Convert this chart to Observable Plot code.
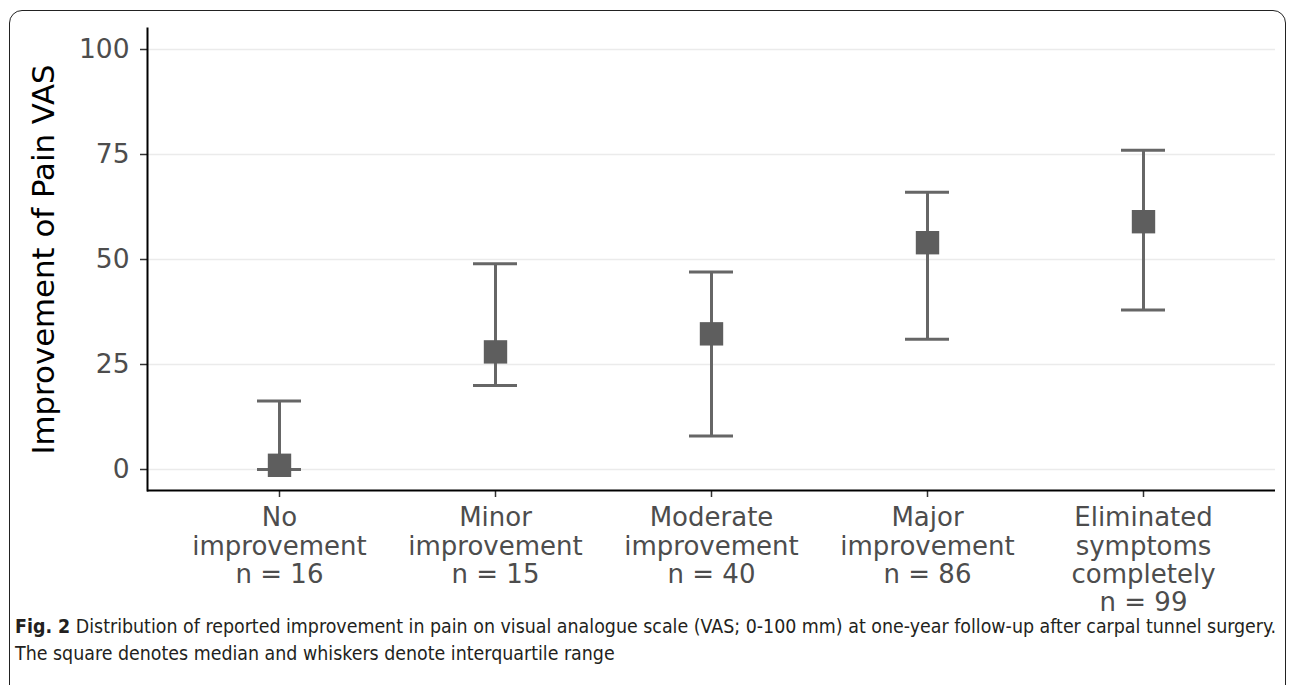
<!DOCTYPE html>
<html>
<head>
<meta charset="utf-8">
<script src="https://cdn.jsdelivr.net/npm/d3@7"></script>
<script src="https://cdn.jsdelivr.net/npm/@observablehq/plot@0.6"></script>
<style>
  html, body { margin: 0; padding: 0; background: #fff; width: 1290px; height: 685px; overflow: hidden; }
  #box { position: absolute; left: 9px; top: 10px; width: 1277px; height: 720px; border: 1.5px solid #222; border-radius: 13px; box-sizing: border-box; }
  #chart { position: absolute; left: 0; top: 0; }
  #caption { position: absolute; left: 15px; top: 613px; width: 1270px; font-family: "Liberation Sans Narrow", "DejaVu Sans Condensed", "Roboto Condensed", "Liberation Sans", sans-serif; font-stretch: condensed; font-size: 19.4px; line-height: 27px; color: #231f20; white-space: nowrap; }
  #caption b { font-weight: bold; }
</style>
</head>
<body>
<div id="box"></div>
<div id="chart"></div>
<div id="caption"><span id="cap1"><b>Fig. 2</b> Distribution of reported improvement in pain on visual analogue scale (VAS; 0-100 mm) at one-year follow-up after carpal tunnel surgery.</span><br><span id="cap2">The square denotes median and whiskers denote interquartile range</span></div>
<script>
// Data
const categories = ["No improvement", "Minor improvement", "Moderate improvement", "Major improvement", "Eliminated symptoms completely"];
const tickLabels = ["No\nimprovement\nn = 16", "Minor\nimprovement\nn = 15", "Moderate\nimprovement\nn = 40", "Major\nimprovement\nn = 86", "Eliminated\nsymptoms\ncompletely\nn = 99"];
const medians = [1, 28, 32.3, 54, 59];
const q1 = [0, 20, 8, 31, 38];
const q3 = [16.3, 49, 47, 66, 76];
const yTicks = [0, 25, 50, 75, 100];
const yTitle = "Improvement of Pain VAS";

const data = categories.map((c, i) => ({cat: c, med: medians[i], lo: q1[i], hi: q3[i]}));
const labelOf = new Map(categories.map((c, i) => [c, tickLabels[i]]));

const col = "#666666";

const chart = Plot.plot({
  width: 1290,
  height: 612,
  marginLeft: 147,
  marginRight: 15,
  marginTop: 28,
  marginBottom: 122,
  style: {fontFamily: "'DejaVu Sans', sans-serif", background: "transparent", overflow: "visible"},
  x: {type: "band", domain: categories, paddingInner: 1, paddingOuter: 0.6},
  y: {domain: [-5, 105]},
  marks: [
    Plot.gridY(yTicks, {stroke: "#ebebeb", strokeOpacity: 1, strokeWidth: 1.3}),
    Plot.axisY({ticks: yTicks, tickSize: 7, tickPadding: 11, fontSize: 26.5, stroke: "#333", fill: "#4d4d4d", strokeWidth: 1.5, label: null}),
    Plot.axisY({ticks: [], label: yTitle, labelAnchor: "center", labelArrow: "none", labelOffset: 115, fontSize: 30.8, fill: "#000", tickSize: 0}),
    Plot.axisX({tickSize: 7, tickPadding: 9, fontSize: 26, lineHeight: 1.08, stroke: "#333", fill: "#4d4d4d", strokeWidth: 1.5, tickFormat: d => labelOf.get(d), label: null}),
    Plot.ruleY([-5], {stroke: "#000", strokeWidth: 2}),
    Plot.frame({anchor: "left", stroke: "#000", strokeWidth: 2}),
    Plot.ruleX(data, {x: "cat", y1: "lo", y2: "hi", stroke: col, strokeWidth: 3}),
    Plot.tickY(data, {x: "cat", y: "lo", stroke: col, strokeWidth: 3, insetLeft: -22, insetRight: -22}),
    Plot.tickY(data, {x: "cat", y: "hi", stroke: col, strokeWidth: 3, insetLeft: -22, insetRight: -22}),
    Plot.dot(data, {x: "cat", y: "med", symbol: "square", r: 13.2, fill: "#5e5e5e", stroke: "none"})
  ]
});
document.getElementById("chart").appendChild(chart);
</script>
</body>
</html>
